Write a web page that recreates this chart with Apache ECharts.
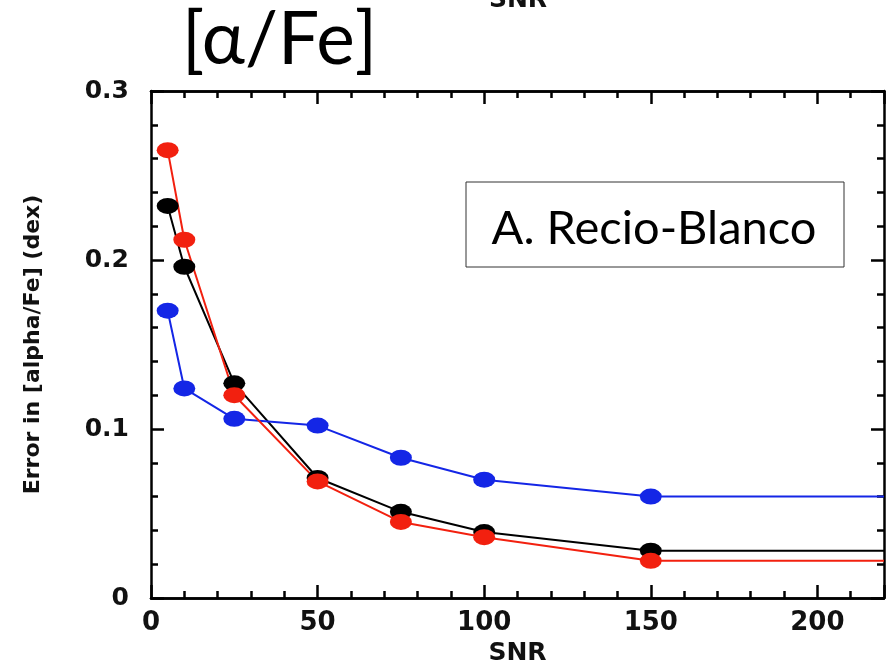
<!DOCTYPE html>
<html>
<head>
<meta charset="utf-8">
<script src="https://cdn.jsdelivr.net/npm/echarts@6/dist/echarts.min.js"></script>
<style>
  html, body { margin: 0; padding: 0; background: #fff; }
  #chart { width: 890px; height: 662px; }
</style>
</head>
<body>
<div id="chart"></div>
<script>
// Signal-to-noise ratios sampled
const snr = [5, 10, 25, 50, 75, 100, 150];
// Flat continuation of each curve out to the right edge
const tailSnr = 220;

// Error in [alpha/Fe] (dex) for each run
const errBlack = [0.232, 0.196, 0.127, 0.071, 0.051, 0.039, 0.028];
const errRed   = [0.265, 0.212, 0.120, 0.069, 0.045, 0.036, 0.022];
const errBlue  = [0.170, 0.124, 0.106, 0.102, 0.083, 0.070, 0.060];

const xTicks = [0, 50, 100, 150, 200];
const yTicks = [0, 0.1, 0.2, 0.3];

const titleText = '[\u03b1/Fe]';
const boxText = 'A. Recio-Blanco';
const xName = 'SNR';
const yName = 'Error in [alpha/Fe] (dex)';

function toSeriesData(vals) {
  const pts = snr.map((s, i) => [s, vals[i]]);
  pts.push({ value: [tailSnr, vals[vals.length - 1]], symbol: 'none' });
  return pts;
}

const axisFont = { fontFamily: 'DejaVu Sans', fontWeight: 'bold', color: '#111' };
const axisLine = { show: true, onZero: false, lineStyle: { color: '#000', width: 2.5 } };

function xAxisDef(pos, step, tickLen, showLabels) {
  return {
    type: 'value', position: pos, min: 0, max: 220, interval: step,
    axisLine: axisLine,
    axisTick: { show: true, inside: true, length: tickLen, lineStyle: { color: '#000', width: 2.5 } },
    axisLabel: showLabels ? Object.assign({
      show: true, fontSize: 26, margin: 12,
      formatter: v => (xTicks.indexOf(v) >= 0 ? String(v) : '')
    }, axisFont) : { show: false },
    splitLine: { show: false },
    name: showLabels ? xName : '',
    nameLocation: 'middle', nameGap: 40,
    nameTextStyle: Object.assign({ fontSize: 25 }, axisFont)
  };
}

function yAxisDef(pos, showLabels) {
  return {
    type: 'value', position: pos, min: 0, max: 0.3, interval: 0.1,
    axisLine: axisLine,
    axisTick: { show: true, inside: true, length: 13, lineStyle: { color: '#000', width: 2.5 } },
    minorTick: { show: true, splitNumber: 5, length: 7, lineStyle: { color: '#000', width: 2.5 } },
    axisLabel: showLabels ? Object.assign({
      show: true, fontSize: 25, margin: 22,
      formatter: v => {
        const hit = yTicks.find(t => Math.abs(t - v) < 1e-9);
        return hit === undefined ? '' : (hit === 0 ? '0' : hit.toFixed(1));
      }
    }, axisFont) : { show: false },
    splitLine: { show: false },
    minorSplitLine: { show: false },
    name: showLabels ? yName : '',
    nameLocation: 'middle', nameGap: 107, nameRotate: 90,
    nameTextStyle: Object.assign({ fontSize: 22 }, axisFont)
  };
}

// filled ellipse marker
const ellipsePath = 'path://M0,50 A50,50 0 1,1 100,50 A50,50 0 1,1 0,50 Z';

function lineSeries(name, vals, color) {
  return {
    name: name, type: 'line', data: toSeriesData(vals),
    xAxisIndex: 0, yAxisIndex: 0,
    symbol: ellipsePath, symbolSize: [22, 16],
    showSymbol: true,
    lineStyle: { color: color, width: 2 },
    itemStyle: { color: color },
    z: 3
  };
}

const chart = echarts.init(document.getElementById('chart'), null, { renderer: 'canvas' });

const option = {
  backgroundColor: '#fff',
  animation: false,
  grid: { left: 151, right: 6, top: 91, bottom: 64, containLabel: false, outerBoundsMode: 'none' },
  xAxis: [
    xAxisDef('bottom', 50, 13, true),
    xAxisDef('bottom', 10, 7, false),
    xAxisDef('top', 50, 13, false),
    xAxisDef('top', 10, 7, false)
  ],
  yAxis: [
    yAxisDef('left', true),
    yAxisDef('right', false)
  ],
  series: [
    lineSeries('black', errBlack, '#000000'),
    lineSeries('blue', errBlue, '#1426e6'),
    lineSeries('red', errRed, '#f2200f')
  ],
  graphic: [
    {
      type: 'text', left: 182, top: 4,
      style: { text: titleText, font: '73px Lato', fill: '#000' }
    },
    {
      type: 'text', x: 518, y: 0,
      style: { text: xName, font: 'bold 25px "DejaVu Sans"', fill: '#111', align: 'center', verticalAlign: 'middle' }
    },
    {
      type: 'rect', shape: { x: 466, y: 182, width: 378, height: 85 },
      style: { fill: '#fff', stroke: '#333', lineWidth: 1 }, z: 10
    },
    {
      type: 'text', x: 654, y: 229,
      style: { text: boxText, font: '47px Lato', fill: '#000', align: 'center', verticalAlign: 'middle' }, z: 11
    }
  ]
};

chart.setOption(option);
</script>
</body>
</html>
